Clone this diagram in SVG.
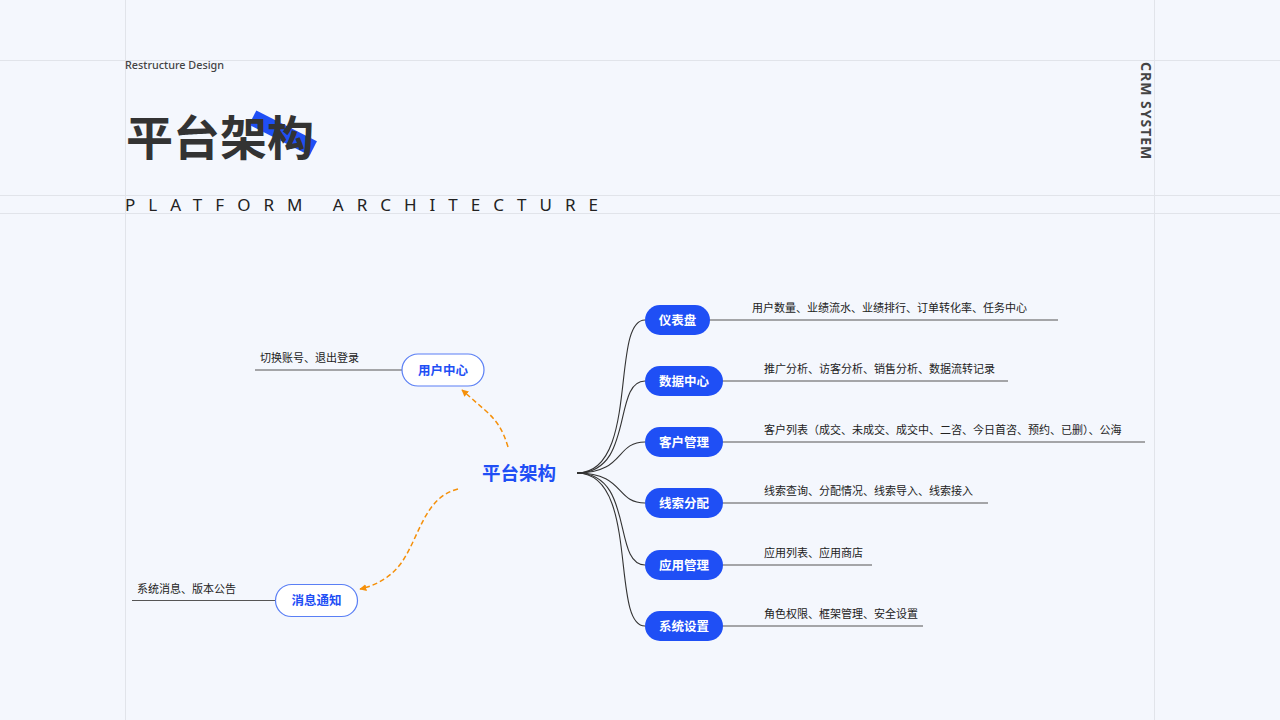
<svg xmlns="http://www.w3.org/2000/svg" width="1280" height="720" viewBox="0 0 1280 720">
<defs>
<style>
.grid{stroke:#e1e4ea;stroke-width:1;fill:none}
.cjk{font-family:"Noto Sans CJK SC","Noto Sans",sans-serif}
.lat{font-family:"Noto Sans","Open Sans",sans-serif}
.pill{fill:#1f4ff5}
.pilltxt{fill:#ffffff;font-size:12.5px;font-weight:bold;text-anchor:middle}
.opill{fill:#ffffff;stroke:#5a7ff5;stroke-width:1.2}
.opilltxt{fill:#1f4ff5;font-size:12.5px;font-weight:bold;text-anchor:middle}
.leaf{fill:#222222;font-size:11px}
.uline{stroke:#555555;stroke-width:1.2;fill:none}
.branch{stroke:#333333;stroke-width:1.1;fill:none}
.dash{stroke:#f5900a;stroke-width:1.5;fill:none;stroke-dasharray:5 3}
</style>
<marker id="arr" viewBox="0 0 10 10" refX="9" refY="5" markerWidth="7" markerHeight="7" orient="auto" markerUnits="userSpaceOnUse">
<path d="M0,0 L10,5 L0,10 z" fill="#f5900a"/>
</marker>
</defs>
<rect x="0" y="0" width="1280" height="720" fill="#f4f7fd"/>
<g id="grid">
<line class="grid" x1="0" y1="60.5" x2="1280" y2="60.5"/>
<line class="grid" x1="0" y1="195.5" x2="1280" y2="195.5"/>
<line class="grid" x1="0" y1="213.5" x2="1280" y2="213.5"/>
<line class="grid" x1="125.5" y1="0" x2="125.5" y2="720"/>
<line class="grid" x1="1154.5" y1="0" x2="1154.5" y2="720"/>
</g>
<g id="header">
<text class="lat" x="125" y="69" font-size="10.8" font-weight="500" fill="#444444">Restructure Design</text>
<rect x="249" y="125" width="68" height="16" fill="#1f4ff5" transform="rotate(27 283 133)"/>
<text class="cjk" x="126" y="155" font-size="47" font-weight="bold" fill="#333333">平台架构</text>
<text class="lat" x="125" y="211" font-size="17" fill="#222222" letter-spacing="13">PLATFORM ARCHITECTURE</text>
<text class="lat" x="1141" y="62" font-size="14" font-weight="bold" fill="#444444" letter-spacing="1" transform="rotate(90 1141 62)">CRM SYSTEM</text>
</g>
<g id="connectors">
<path class="branch" d="M577,473 C640,473 610,320 645,320"/>
<path class="branch" d="M577,473 C635,473 612,381 645,381"/>
<path class="branch" d="M577,473 C625,473 615,442 645,442"/>
<path class="branch" d="M577,473 C625,473 615,503 645,503"/>
<path class="branch" d="M577,473 C635,473 612,565 645,565"/>
<path class="branch" d="M577,473 C640,473 610,626 645,626"/>
<path class="dash" d="M508,447 C503,430 497,421 486,411 L462,390" marker-end="url(#arr)"/>
<path class="dash" d="M458,489 C425,497 420,535 402,562 C392,576 378,585 360,589" marker-end="url(#arr)"/>
</g>
<g id="center">
<text class="cjk" x="519" y="480" font-size="18.5" font-weight="bold" fill="#1f4ff5" text-anchor="middle">平台架构</text>
</g>
<g id="node-yonghu">
<line class="uline" x1="255" y1="370" x2="403" y2="370"/>
<text class="cjk leaf" x="260" y="362">切换账号、退出登录</text>
<rect class="opill" x="402" y="354" width="82" height="32" rx="16"/>
<text class="cjk opilltxt" x="443" y="374.5">用户中心</text>
</g>
<g id="node-xiaoxi">
<line class="uline" x1="132" y1="600.5" x2="276" y2="600.5"/>
<text class="cjk leaf" x="137" y="593">系统消息、版本公告</text>
<rect class="opill" x="275.5" y="584.5" width="82" height="32" rx="16"/>
<text class="cjk opilltxt" x="316.5" y="605">消息通知</text>
</g>
<g id="node-yibiaopan">
<line class="uline" x1="708" y1="320" x2="1058" y2="320"/>
<text class="cjk leaf" x="752" y="312">用户数量、业绩流水、业绩排行、订单转化率、任务中心</text>
<rect class="pill" x="645" y="305" width="65" height="30" rx="15"/>
<text class="cjk pilltxt" x="677.5" y="324.5">仪表盘</text>
</g>
<g id="node-shuju">
<line class="uline" x1="720" y1="381" x2="1008" y2="381"/>
<text class="cjk leaf" x="764" y="373">推广分析、访客分析、销售分析、数据流转记录</text>
<rect class="pill" x="645" y="366" width="78" height="30" rx="15"/>
<text class="cjk pilltxt" x="684" y="385.5">数据中心</text>
</g>
<g id="node-kehu">
<line class="uline" x1="720" y1="442" x2="1145" y2="442"/>
<text class="cjk leaf" x="764" y="434">客户列表（成交、未成交、成交中、二咨、今日首咨、预约、已删）、公海</text>
<rect class="pill" x="645" y="427" width="78" height="30" rx="15"/>
<text class="cjk pilltxt" x="684" y="446.5">客户管理</text>
</g>
<g id="node-xiansuo">
<line class="uline" x1="720" y1="503" x2="988" y2="503"/>
<text class="cjk leaf" x="764" y="495">线索查询、分配情况、线索导入、线索接入</text>
<rect class="pill" x="645" y="488" width="78" height="30" rx="15"/>
<text class="cjk pilltxt" x="684" y="507.5">线索分配</text>
</g>
<g id="node-yingyong">
<line class="uline" x1="720" y1="565" x2="872" y2="565"/>
<text class="cjk leaf" x="764" y="557">应用列表、应用商店</text>
<rect class="pill" x="645" y="550" width="78" height="30" rx="15"/>
<text class="cjk pilltxt" x="684" y="569.5">应用管理</text>
</g>
<g id="node-xitong">
<line class="uline" x1="720" y1="626" x2="923" y2="626"/>
<text class="cjk leaf" x="764" y="618">角色权限、框架管理、安全设置</text>
<rect class="pill" x="645" y="611" width="78" height="30" rx="15"/>
<text class="cjk pilltxt" x="684" y="630.5">系统设置</text>
</g>
</svg>
